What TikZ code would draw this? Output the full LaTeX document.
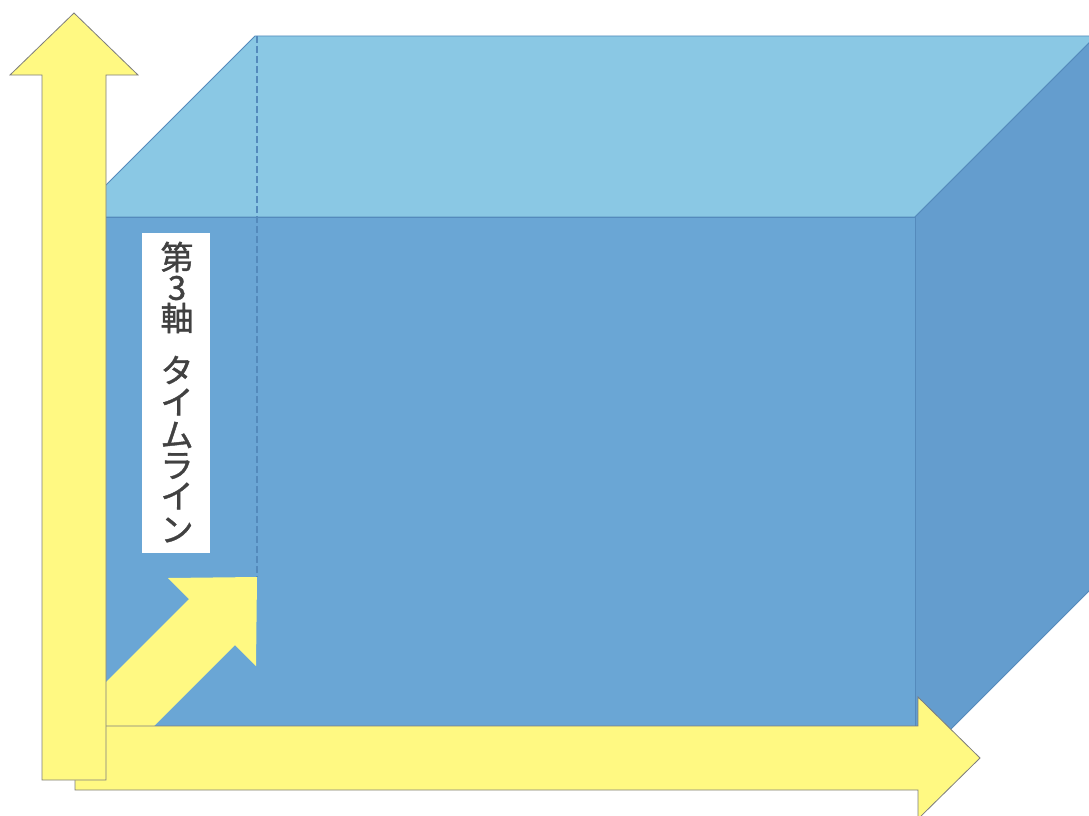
\documentclass[tikz,border=0pt]{standalone}
\usepackage{fontspec}
\newfontfamily\jpfont[FakeBold=1.2]{Noto Sans CJK JP}
\definecolor{topface}{RGB}{138,200,228}
\definecolor{frontface}{RGB}{106,166,213}
\definecolor{rightface}{RGB}{100,157,206}
\definecolor{boxedge}{RGB}{84,138,188}
\definecolor{arrowyellow}{RGB}{255,249,130}
\definecolor{arrowline}{RGB}{125,125,125}
\definecolor{labeltext}{RGB}{65,65,65}
\begin{document}
\begin{tikzpicture}[x=1pt,y=-1pt,
  face/.style={draw=boxedge,line width=0.8pt,line join=round},
  yarrow/.style={fill=arrowyellow,draw=arrowline,line width=0.8pt,line join=miter},
  yarrownoline/.style={fill=arrowyellow},
  hidden/.style={draw=boxedge,line width=1.4pt,dash pattern=on 7pt off 3pt},
  labelbox/.style={fill=white,draw=none},
  ch/.style={font=\jpfont\fontsize{33}{33}\selectfont,text=labeltext,inner sep=0pt}]
\useasboundingbox (0,0) rectangle (1089,816);
\fill[white] (0,0) rectangle (1089,816);
% box corners
\coordinate (FTL) at (74,217);
\coordinate (FTR) at (915,217);
\coordinate (FBR) at (915,765);
\coordinate (FBL) at (74,765);
\coordinate (BTL) at (255,36);
\coordinate (BTR) at (1096,36);
\coordinate (BBR) at (1096,584);
\coordinate (BBL) at (257,577);
% faces
\path[face,fill=topface] (FTL) -- (BTL) -- (BTR) -- (FTR) -- cycle;
\path[face,fill=rightface] (FTR) -- (BTR) -- (BBR) -- (FBR) -- cycle;
\path[face,fill=frontface] (FTL) -- (FTR) -- (FBR) -- (FBL) -- cycle;
\coordinate (BTLd) at (257,36);
\draw[hidden] (BTLd) -- (BBL);
% diagonal arrow (tip at back bottom-left corner)
\fill[yarrownoline] (BBL) -- (256,666) -- (235,645) -- (105,775) -- (59,729) -- (189,599) -- (168,578) -- cycle;
% horizontal arrow
\coordinate (HT) at (980,758);
\path[yarrow] (75,726) -- (918,726) -- (918,697) -- (HT) -- (918,819) -- (918,790) -- (75,790) -- cycle;
% vertical arrow
\coordinate (VT) at (74,13);
\path[yarrow] (42,780) -- (42,75) -- (10,75) -- (VT) -- (138,75) -- (106,75) -- (106,780) -- cycle;
% label
\node[labelbox,minimum width=68pt,minimum height=320pt,inner sep=0pt] (lbl) at (176,393) {};
\node[ch] (c1) at (177,257) {第};
\node[ch] (c2) at (177,288) {3};
\node[ch] (c3) at (177,318) {軸};
\node[ch] (c4) at (177,370) {タ};
\node[ch] (c5) at (177,402) {イ};
\node[ch] (c6) at (177,435) {ム};
\node[ch] (c7) at (177,466) {ラ};
\node[ch] (c8) at (177,496) {イ};
\node[ch] (c9) at (177,530) {ン};
\end{tikzpicture}
\end{document}
